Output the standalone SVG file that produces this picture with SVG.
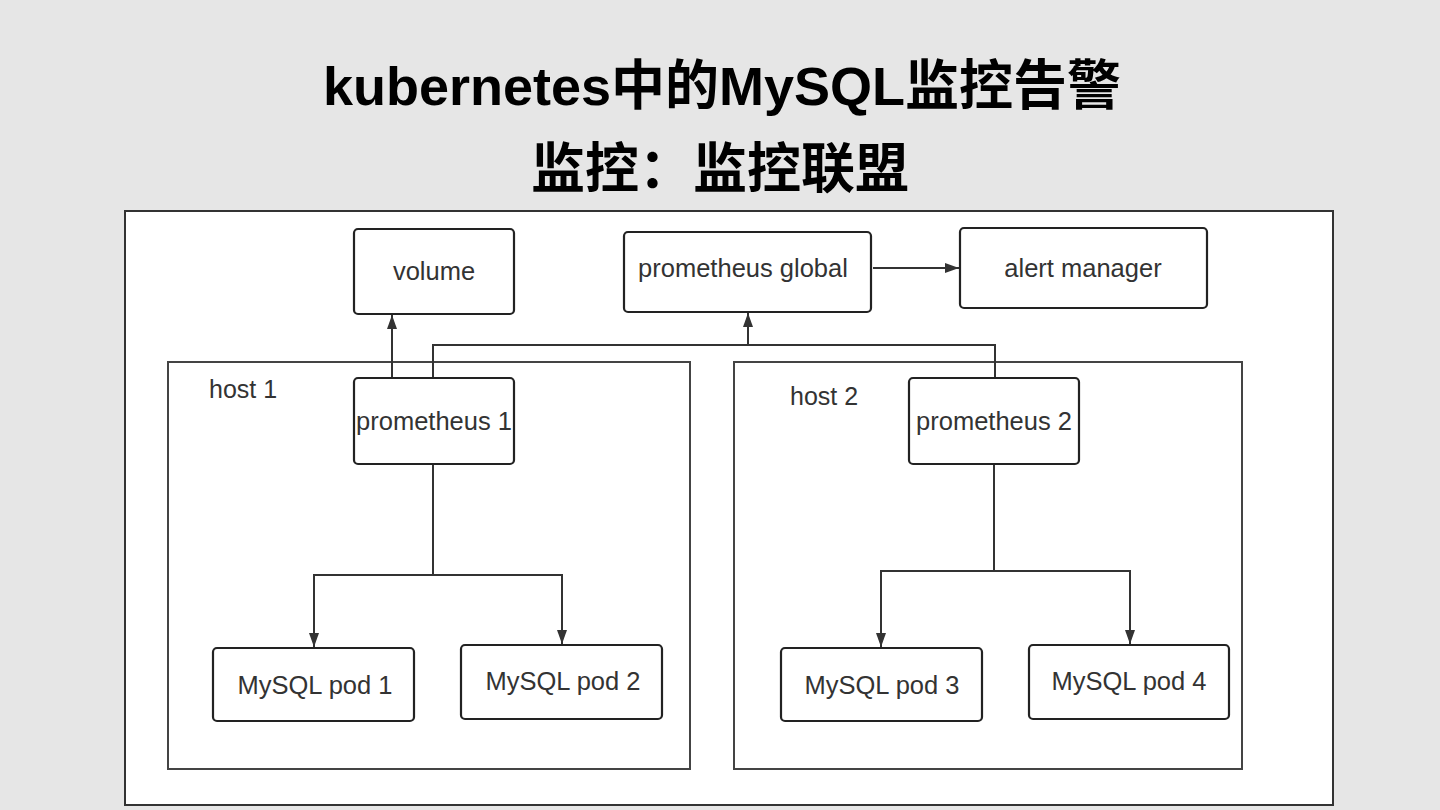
<svg xmlns="http://www.w3.org/2000/svg" width="1440" height="810" viewBox="0 0 1440 810">
<defs>
<marker id="arr" viewBox="0 0 14 10" refX="14" refY="5" markerWidth="14" markerHeight="10" markerUnits="userSpaceOnUse" orient="auto">
<path d="M0,0 L14,5 L0,10 z" fill="#333"/>
</marker>
<style>
.title{font-family:"Liberation Sans","Noto Sans CJK SC",sans-serif;font-weight:bold;font-size:54px;fill:#000;text-anchor:middle}
.box{fill:#fff;stroke:#222;stroke-width:2.2}
.host{fill:#fff;stroke:#444;stroke-width:2}
.lbl{font-family:"Liberation Sans","Noto Sans CJK SC",sans-serif;font-size:25.5px;fill:#333;text-anchor:middle}
.hl{font-family:"Liberation Sans",sans-serif;font-size:25px;fill:#333}
.con{fill:none;stroke:#333;stroke-width:2}
</style>
</defs>
<rect width="1440" height="810" fill="#e6e6e6"/>
<text class="title" x="722" y="105">kubernetes中的MySQL监控告警</text>
<text class="title" x="720" y="188">监控：监控联盟</text>
<rect x="125" y="211" width="1208" height="594" fill="#fff" stroke="#333" stroke-width="2"/>
<g id="host1"><rect class="host" x="168" y="362" width="522" height="407"/><text class="hl" x="209" y="398">host 1</text></g>
<g id="host2"><rect class="host" x="734" y="362" width="508" height="407"/><text class="hl" x="790" y="405">host 2</text></g>
<g id="connectors">
<line class="con" x1="392" y1="378" x2="392" y2="315" marker-end="url(#arr)"/>
<polyline class="con" points="433,378 433,345 995,345 995,378"/>
<line class="con" x1="748" y1="345" x2="748" y2="313" marker-end="url(#arr)"/>
<line class="con" x1="873" y1="268" x2="959" y2="268" marker-end="url(#arr)"/>
<polyline class="con" points="433,464 433,575"/>
<polyline class="con" points="314,647 314,575 562,575 562,644" marker-end="url(#arr)"/>
<line class="con" x1="314" y1="580" x2="314" y2="647" marker-end="url(#arr)"/>
<polyline class="con" points="994,464 994,571"/>
<polyline class="con" points="881,647 881,571 1130,571 1130,644" marker-end="url(#arr)"/>
<line class="con" x1="881" y1="580" x2="881" y2="647" marker-end="url(#arr)"/>
</g>
<g id="volume"><rect class="box" x="354" y="229" width="160" height="85" rx="4"/><text class="lbl" x="434" y="280">volume</text></g>
<g id="prometheus-global"><rect class="box" x="624" y="232" width="247" height="80" rx="4"/><text class="lbl" x="743" y="277">prometheus global</text></g>
<g id="alert-manager"><rect class="box" x="960" y="228" width="247" height="80" rx="4"/><text class="lbl" x="1083" y="277">alert manager</text></g>
<g id="prometheus1"><rect class="box" x="354" y="378" width="160" height="86" rx="4"/><text class="lbl" x="434" y="430">prometheus 1</text></g>
<g id="prometheus2"><rect class="box" x="909" y="378" width="170" height="86" rx="4"/><text class="lbl" x="994" y="430">prometheus 2</text></g>
<g id="pod1"><rect class="box" x="213" y="648" width="201" height="73" rx="4"/><text class="lbl" x="315" y="694">MySQL pod 1</text></g>
<g id="pod2"><rect class="box" x="461" y="645" width="201" height="74" rx="4"/><text class="lbl" x="563" y="690">MySQL pod 2</text></g>
<g id="pod3"><rect class="box" x="781" y="648" width="201" height="73" rx="4"/><text class="lbl" x="882" y="694">MySQL pod 3</text></g>
<g id="pod4"><rect class="box" x="1029" y="645" width="200" height="74" rx="4"/><text class="lbl" x="1129" y="690">MySQL pod 4</text></g>
</svg>
